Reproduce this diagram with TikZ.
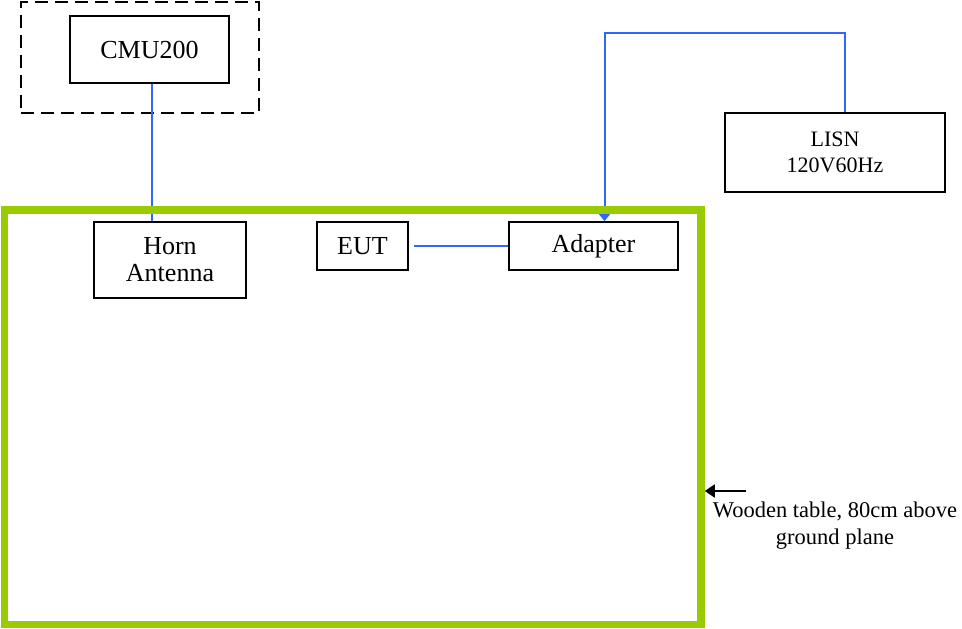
\documentclass[tikz,border=0pt]{standalone}
\usepackage{fontspec}
\setmainfont{Liberation Serif}
\usetikzlibrary{calc,positioning,arrows.meta,shapes}
\definecolor{tablegreen}{RGB}{153,204,0}
\definecolor{wireblue}{RGB}{51,102,255}
\tikzset{
  unit box/.style={draw,rectangle,line width=1.8pt,inner sep=0pt,align=center,
    font=\fontsize{26}{27}\selectfont},
  dashed frame/.style={draw,rectangle,line width=1.8pt,dash pattern=on 13pt off 7pt,inner sep=0pt},
  table frame/.style={draw=tablegreen,rectangle,line width=7.5pt,inner sep=0pt},
  wire/.style={draw=wireblue,line width=2pt}
}

\begin{document}
\begin{tikzpicture}[x=1pt,y=-1pt]
  \useasboundingbox (0,0) rectangle (962,629);
  \node (station) [dashed frame,minimum width=238pt,minimum height=111pt] at (140,57.5) {};
  \node (cmu) [unit box,minimum width=159pt,minimum height=67pt] at (149.5,49.5) {CMU200};

  \node (horn) [unit box,minimum width=152pt,minimum height=76pt] at (170,260) {Horn\\Antenna};
  \node (eut) [unit box,minimum width=91pt,minimum height=48pt] at (362.5,246) {EUT};
  \node (adapter) [unit box,minimum width=169pt,minimum height=48pt] at (593.5,246) {Adapter};
  \node (lisn) [unit box,minimum width=220pt,minimum height=79pt,font=\fontsize{22}{26}\selectfont]
    at (835,152.5) {LISN\\120V60Hz};

  % cables
  \draw[wire] ([xshift=2.5pt]cmu.south) -- ([xshift=2.5pt]cmu.south |- horn.north);
  \draw[wire] ([xshift=5pt]eut.east) -- (adapter.west);
  \draw[wire,-{Triangle[length=7pt,width=11pt]}] ([xshift=10pt]lisn.north) -- ++(0,-79)
    -| ([xshift=11pt]adapter.north);

  \node (table) [table frame,minimum width=696.5pt,minimum height=414.5pt] at (352.75,417.25) {};
  \node (woodlabel) [font=\fontsize{22.5}{27}\selectfont,align=center,inner sep=0pt] at (835,526)
    {Wooden table, 80cm above\\ground plane};
  \coordinate (pointer) at (746,491);
  \draw[line width=1.8pt,-{Triangle[length=10pt,width=13pt]}] (pointer) -- (pointer -| table.east);
\end{tikzpicture}
\end{document}
